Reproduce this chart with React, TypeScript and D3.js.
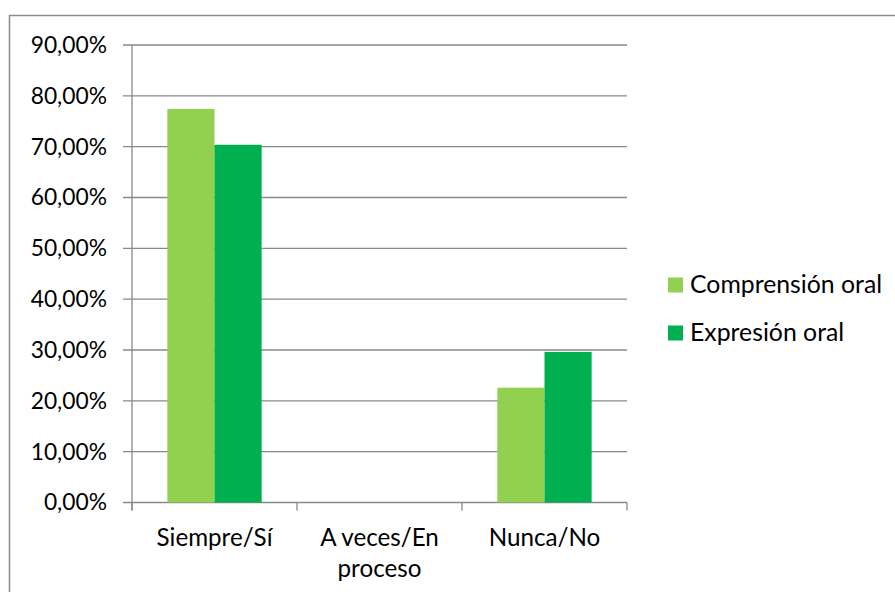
import React from "react";
import * as d3 from "d3";

// Survey results: share of answers per category for two skills
const categories: string[][] = [["Siempre/Sí"], ["A veces/En", "proceso"], ["Nunca/No"]];
const seriesNames = ["Comprensión oral", "Expresión oral"];
const comprension = [77.42, 0, 22.58];
const expresion = [70.37, 0, 29.63];
const yTicks = [0, 10, 20, 30, 40, 50, 60, 70, 80, 90];
const colors = ["#92D050", "#00B050"];

const W = 895;
const H = 592;
const plot = { left: 132, right: 627, top: 45, bottom: 502.5 };
const FONT = "Lato, 'Noto Sans', sans-serif";

export default function App() {
  const x = d3
    .scaleBand<number>()
    .domain(d3.range(categories.length))
    .range([plot.left, plot.right]);
  const inner = d3
    .scaleBand<number>()
    .domain([0, 1])
    .range([0, x.bandwidth()])
    .paddingOuter(0.75);
  const y = d3.scaleLinear().domain([0, 90]).range([plot.bottom, plot.top]);
  const series = [comprension, expresion];
  const fmt = (v: number) => v.toFixed(2).replace(".", ",") + "%";
  const gridColor = "#898989";

  return (
    <svg
      width={W}
      height={H}
      style={{ position: "absolute", left: 0, top: 0, display: "block" }}
      fontFamily={FONT}
    >
      <rect x={0} y={0} width={W} height={H} fill="#fff" />
      {/* chart frame */}
      <rect x={9.5} y={15.5} width={W + 20} height={H + 20} fill="none" stroke="#8c8c8c" strokeWidth={1.5} />

      {/* horizontal gridlines with outer tick marks */}
      {yTicks.map((t) => (
        <g key={t}>
          <line x1={plot.left - 9} x2={plot.right} y1={y(t)} y2={y(t)} stroke={gridColor} strokeWidth={1.3} />
          <text
            x={107}
            y={y(t)}
            dy="0.35em"
            textAnchor="end"
            fontSize={22.8}
            fill="#000"
          >
            {fmt(t)}
          </text>
        </g>
      ))}

      {/* value axis line */}
      <line x1={plot.left} x2={plot.left} y1={plot.top} y2={plot.bottom + 8} stroke={gridColor} strokeWidth={1.3} />

      {/* category tick marks */}
      {d3.range(categories.length + 1).map((i) => {
        const xx = plot.left + i * x.step();
        return <line key={i} x1={xx} x2={xx} y1={plot.bottom} y2={plot.bottom + 8} stroke={gridColor} strokeWidth={1.3} />;
      })}

      {/* bars */}
      {categories.map((_, ci) =>
        series.map((s, si) =>
          s[ci] > 0 ? (
            <rect
              key={`${ci}-${si}`}
              x={(x(ci) as number) + (inner(si) as number)}
              y={y(s[ci])}
              width={inner.bandwidth()}
              height={y(0) - y(s[ci])}
              fill={colors[si]}
            />
          ) : null
        )
      )}

      {/* category labels */}
      {categories.map((lines, ci) => (
        <text
          key={ci}
          x={(x(ci) as number) + x.bandwidth() / 2}
          y={546}
          textAnchor="middle"
          fontSize={24.2}
          fill="#000"
        >
          {lines.map((l, li) => (
            <tspan key={li} x={(x(ci) as number) + x.bandwidth() / 2} dy={li === 0 ? 0 : 31}>
              {l}
            </tspan>
          ))}
        </text>
      ))}

      {/* legend */}
      {seriesNames.map((name, i) => (
        <g key={name} transform={`translate(668, ${277.5 + i * 48})`}>
          <rect x={0} y={0} width={15} height={15} fill={colors[i]} />
          <text x={22} y={15} fontSize={24.8} fill="#000">
            {name}
          </text>
        </g>
      ))}
    </svg>
  );
}
